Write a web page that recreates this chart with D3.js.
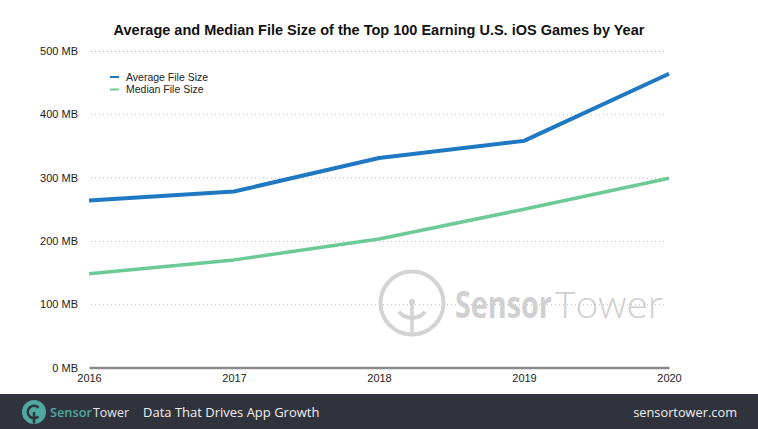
<!DOCTYPE html>
<html>
<head>
<meta charset="utf-8">
<script src="https://cdn.jsdelivr.net/npm/d3@7"></script>
<style>
  html, body { margin: 0; padding: 0; background: #fff; }
  svg { display: block; }
</style>
</head>
<body>
<svg class="chart"></svg>
<script>
// chart data
const years = [2016, 2017, 2018, 2019, 2020];
const averageSize = [264, 278, 331, 358, 464];
const medianSize = [148, 170, 203, 250, 299];
const yTicks = [0, 100, 200, 300, 400, 500];
const seriesNames = ['Average File Size', 'Median File Size'];

const width = 758;
const height = 429;
const marginLeft = 89, marginRight = 89, marginTop = 51, marginBottom = 61.5;
const colors = ['#1f79c2', '#6cca97'];

const svg = d3.select('.chart')
    .attr('width', width)
    .attr('height', height)
    .attr('viewBox', [0, 0, width, height]);

const x = d3.scaleLinear()
    .domain(d3.extent(years))
    .range([marginLeft, width - marginRight]);
const y = d3.scaleLinear()
    .domain([0, 500])
    .range([height - marginBottom, marginTop]);

// squeeze a word horizontally so it fills the given width
const fitWidth = (sel, baseline) => sel.each(function(d) {
    const natural = this.getComputedTextLength();
    d3.select(this).attr('transform',
        `translate(${d.x},${baseline}) scale(${d.len / natural},1)`);
});

// title
svg.append('text')
    .attr('x', 379)
    .attr('y', 35)
    .attr('text-anchor', 'middle')
    .attr('font-family', 'Liberation Sans, Arial, sans-serif')
    .attr('font-weight', 'bold')
    .attr('font-size', 14.5)
    .attr('fill', '#111')
    .text('Average and Median File Size of the Top 100 Earning U.S. iOS Games by Year');

// y axis with dotted gridlines
const yAxis = d3.axisLeft(y)
    .tickValues(yTicks)
    .tickFormat(d => `${d} MB`)
    .tickSize(0)
    .tickPadding(11);

svg.append('g')
    .attr('transform', `translate(${marginLeft},0)`)
    .call(yAxis)
    .call(g => g.select('.domain').remove())
    .call(g => g.selectAll('.tick text')
        .attr('font-family', 'Liberation Sans, Arial, sans-serif')
        .attr('font-size', 11)
        .attr('fill', '#222'))
    .call(g => g.selectAll('.tick')
        .filter(d => d > 0)
        .append('line')
        .attr('x1', 2)
        .attr('x2', width - marginRight - marginLeft - 2)
        .attr('stroke', '#bbb')
        .attr('stroke-width', 1)
        .attr('stroke-dasharray', '1,3'));

// watermark logo
const wm = svg.append('g').attr('fill', 'none').attr('stroke', '#d3d3d3');
wm.append('circle')
    .attr('cx', 412).attr('cy', 303).attr('r', 31.5)
    .attr('stroke-width', 4);
const innerArc = d3.arc()
    .innerRadius(15)
    .outerRadius(19)
    .startAngle(Math.PI * 0.72)
    .endAngle(Math.PI * 2 - Math.PI * 0.72);
wm.append('path')
    .attr('transform', 'translate(412,301)')
    .attr('d', innerArc)
    .attr('fill', '#d3d3d3')
    .attr('stroke', 'none');
wm.append('line')
    .attr('x1', 412).attr('x2', 412)
    .attr('y1', 302).attr('y2', 334)
    .attr('stroke-width', 3.5);
wm.append('circle')
    .attr('cx', 412).attr('cy', 302).attr('r', 3)
    .attr('fill', '#d3d3d3').attr('stroke', 'none');

// watermark words, each part sized to its span in the picture
const wmParts = [
    {text: 'Sensor', x: 455, len: 97, weight: 700},
    {text: 'Tower', x: 555, len: 108, weight: 300},
];
svg.append('g')
    .selectAll('text')
    .data(wmParts)
    .join('text')
        .attr('font-family', 'Open Sans, sans-serif')
        .attr('font-size', 37)
        .attr('font-weight', d => d.weight)
        .attr('fill', '#d0d0d0')
        .text(d => d.text)
        .call(fitWidth, 318);

// x axis
const xAxis = d3.axisBottom(x)
    .tickValues(years)
    .tickFormat(d3.format('d'))
    .tickSize(0)
    .tickPadding(7);

svg.append('g')
    .attr('transform', `translate(0,${height - marginBottom})`)
    .call(xAxis)
    .call(g => g.select('.domain')
        .attr('stroke', '#8a8a8a')
        .attr('stroke-width', 2.5))
    .call(g => g.selectAll('.tick text')
        .attr('font-family', 'Liberation Sans, Arial, sans-serif')
        .attr('font-size', 11)
        .attr('fill', '#222'));

// lines
const line = d3.line()
    .x((d, i) => x(years[i]))
    .y(d => y(d));

svg.append('g')
    .attr('fill', 'none')
    .attr('stroke-linejoin', 'round')
    .selectAll('path')
    .data([averageSize, medianSize])
    .join('path')
        .attr('stroke', (d, i) => colors[i])
        .attr('stroke-width', (d, i) => i === 0 ? 4 : 3.5)
        .attr('d', d => line(d));

// legend
const legend = svg.append('g')
    .selectAll('g')
    .data(seriesNames)
    .join('g')
        .attr('transform', (d, i) => `translate(110,${77 + i * 12.5})`);
legend.append('line')
    .attr('x1', 0).attr('x2', 9)
    .attr('stroke', (d, i) => colors[i])
    .attr('stroke-width', 2);
legend.append('text')
    .attr('x', 16)
    .attr('dy', '0.35em')
    .attr('font-family', 'Liberation Sans, Arial, sans-serif')
    .attr('font-size', 10.5)
    .attr('fill', '#222')
    .text(d => d);

// footer band
svg.append('rect')
    .attr('x', 0).attr('y', 394)
    .attr('width', width).attr('height', height - 394)
    .attr('fill', '#30333c');

const fLogo = svg.append('g').attr('transform', 'translate(34,412)');
fLogo.append('circle').attr('r', 12).attr('fill', '#4fa9a1');
fLogo.append('path')
    .attr('d', d3.arc().innerRadius(5).outerRadius(7.5)
        .startAngle(Math.PI * 0.75).endAngle(Math.PI * 1.25 + Math.PI))
    .attr('fill', '#30333c');
fLogo.append('line')
    .attr('x1', 0).attr('x2', 0).attr('y1', 0).attr('y2', 11.5)
    .attr('stroke', '#30333c').attr('stroke-width', 2.5);

const footParts = [
    {text: 'Sensor', x: 50, len: 42, weight: 600, fill: '#4fa9a1'},
    {text: 'Tower', x: 93, len: 36, weight: 400, fill: '#e8e8e8'},
];
svg.append('g')
    .selectAll('text')
    .data(footParts)
    .join('text')
        .attr('font-family', 'Open Sans, sans-serif')
        .attr('font-size', 13)
        .attr('font-weight', d => d.weight)
        .attr('fill', d => d.fill)
        .text(d => d.text)
        .call(fitWidth, 417);

svg.append('text')
    .attr('x', 143)
    .attr('y', 417)
    .attr('font-family', 'Open Sans, sans-serif')
    .attr('font-size', 13)
    .attr('fill', '#f0f0f0')
    .text('Data That Drives App Growth');

svg.append('text')
    .attr('x', 737)
    .attr('y', 417)
    .attr('text-anchor', 'end')
    .attr('font-family', 'Open Sans, sans-serif')
    .attr('font-size', 12.8)
    .attr('fill', '#f0f0f0')
    .text('sensortower.com');
</script>
</body>
</html>
